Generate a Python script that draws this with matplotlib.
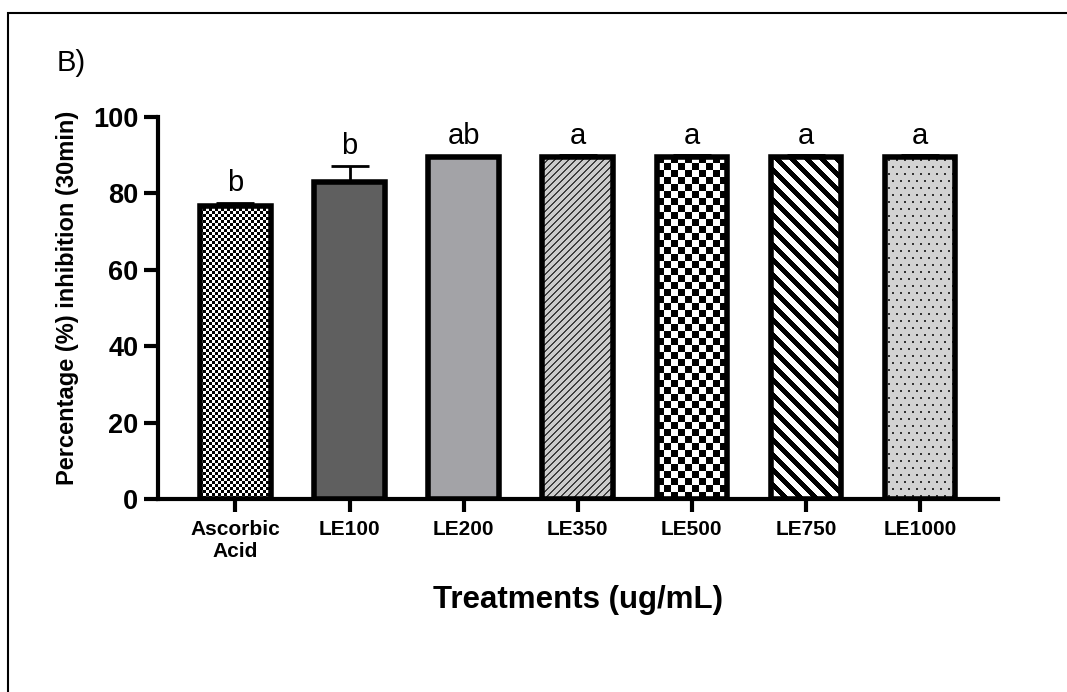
import numpy as np
import matplotlib
matplotlib.use('Agg')
import matplotlib.pyplot as plt
from matplotlib.patches import Rectangle

plt.rcParams['font.family'] = ['Liberation Sans', 'DejaVu Sans']

treatments = ['Ascorbic\nAcid', 'LE100', 'LE200', 'LE350', 'LE500', 'LE750', 'LE1000']
inhibition = [76.8, 83.0, 89.4, 89.5, 89.6, 89.6, 89.6]
sem = [0.8, 4.2, 0.5, 0.5, 0.4, 0.4, 0.4]
letters = ['b', 'b', 'ab', 'a', 'a', 'a', 'a']

# fill style per bar: plain colour or a texture drawn inside the bar
fills = ['fine_check', '#5f5f5f', '#a3a3a7', 'thin_diag', 'big_check', 'thick_diag', 'dots']


def texture(kind, nr, nc):
    i, j = np.indices((nr, nc))
    rgb = np.ones((nr, nc, 3))
    if kind == 'fine_check':
        mask = ((i // 3 + j // 3) % 2) == 0
        rgb[mask] = 0.0
    elif kind == 'big_check':
        mask = ((i // 7 + j // 7) % 2) == 0
        rgb[mask] = 0.0
    elif kind == 'thin_diag':
        rgb[:] = 0.80
        rgb[((i + j) % 7) < 2] = 0.25
    elif kind == 'thick_diag':
        rgb[((j - i) % 15) < 7] = 0.0
    elif kind == 'dots':
        rgb[:] = 0.83
        off = 4 * ((i // 7) % 2)
        mask = np.isin(i % 7, (3, 4)) & np.isin((j + off) % 8, (3, 4))
        rgb[mask] = 0.2
    return rgb


fig = plt.figure(figsize=(10.67, 6.92), dpi=100)
ax = fig.add_axes([0.148, 0.279, 0.787, 0.552])
ax.set_xlim(-0.68, 6.68)
ax.set_ylim(0, 100)

x = np.arange(len(treatments))
colors = [f if f.startswith('#') else 'none' for f in fills]
bars = ax.bar(x, inhibition, width=0.62, color=colors, edgecolor='black',
              linewidth=4, zorder=3)

for b, f in zip(bars, fills):
    if f.startswith('#'):
        continue
    x0, w, h = b.get_x(), b.get_width(), b.get_height()
    p0 = ax.transData.transform((x0, 0))
    p1 = ax.transData.transform((x0 + w, h))
    nc = int(np.ceil(p1[0] - p0[0]))
    nr = int(np.ceil(p1[1] - p0[1]))
    im = ax.imshow(texture(f, nr, nc), extent=(x0, x0 + w, 0, h), origin='upper',
                   interpolation='nearest', aspect='auto', zorder=2.5)
    im.set_clip_path(b)

ax.errorbar(x, inhibition, yerr=[np.zeros(len(x)), sem], fmt='none', ecolor='black',
            elinewidth=2, capsize=13.5, capthick=2, zorder=4)

for xi, m, e, t in zip(x, inhibition, sem, letters):
    ax.text(xi, m + e + 3.0, t, ha='center', va='baseline', fontsize=21)

ax.set_xlim(-0.68, 6.68)
ax.set_ylim(0, 100)

for s in ['top', 'right']:
    ax.spines[s].set_visible(False)
for s in ['left', 'bottom']:
    ax.spines[s].set_linewidth(3)

ax.set_xticks(x)
ax.set_xticklabels(treatments, fontsize=15, fontweight='bold')
ax.tick_params(axis='x', length=9, width=3, pad=6)
ax.set_yticks(range(0, 101, 20))
ax.tick_params(axis='y', labelsize=19.5, length=10, width=3, pad=4)
for lab in ax.get_yticklabels():
    lab.set_fontweight('bold')

ax.set_ylabel('Percentage (%) inhibition (30min)', fontsize=17, fontweight='bold')
ax.yaxis.set_label_coords(-0.094, 0.526)
ax.set_xlabel('Treatments (ug/mL)', fontsize=22.5, fontweight='bold')
ax.xaxis.set_label_coords(0.5, -0.225)

fig.text(57 / 1067, 1 - 71 / 692, 'B)', fontsize=21, ha='left', va='baseline')

# outer frame, open past the right and bottom edges
fig.add_artist(Rectangle((8 / 1067, -0.1), 1.2, 1 - 13 / 692 + 0.1,
                         transform=fig.transFigure, fill=False,
                         edgecolor='black', linewidth=1.5))

fig.savefig('out.png', dpi=100)
